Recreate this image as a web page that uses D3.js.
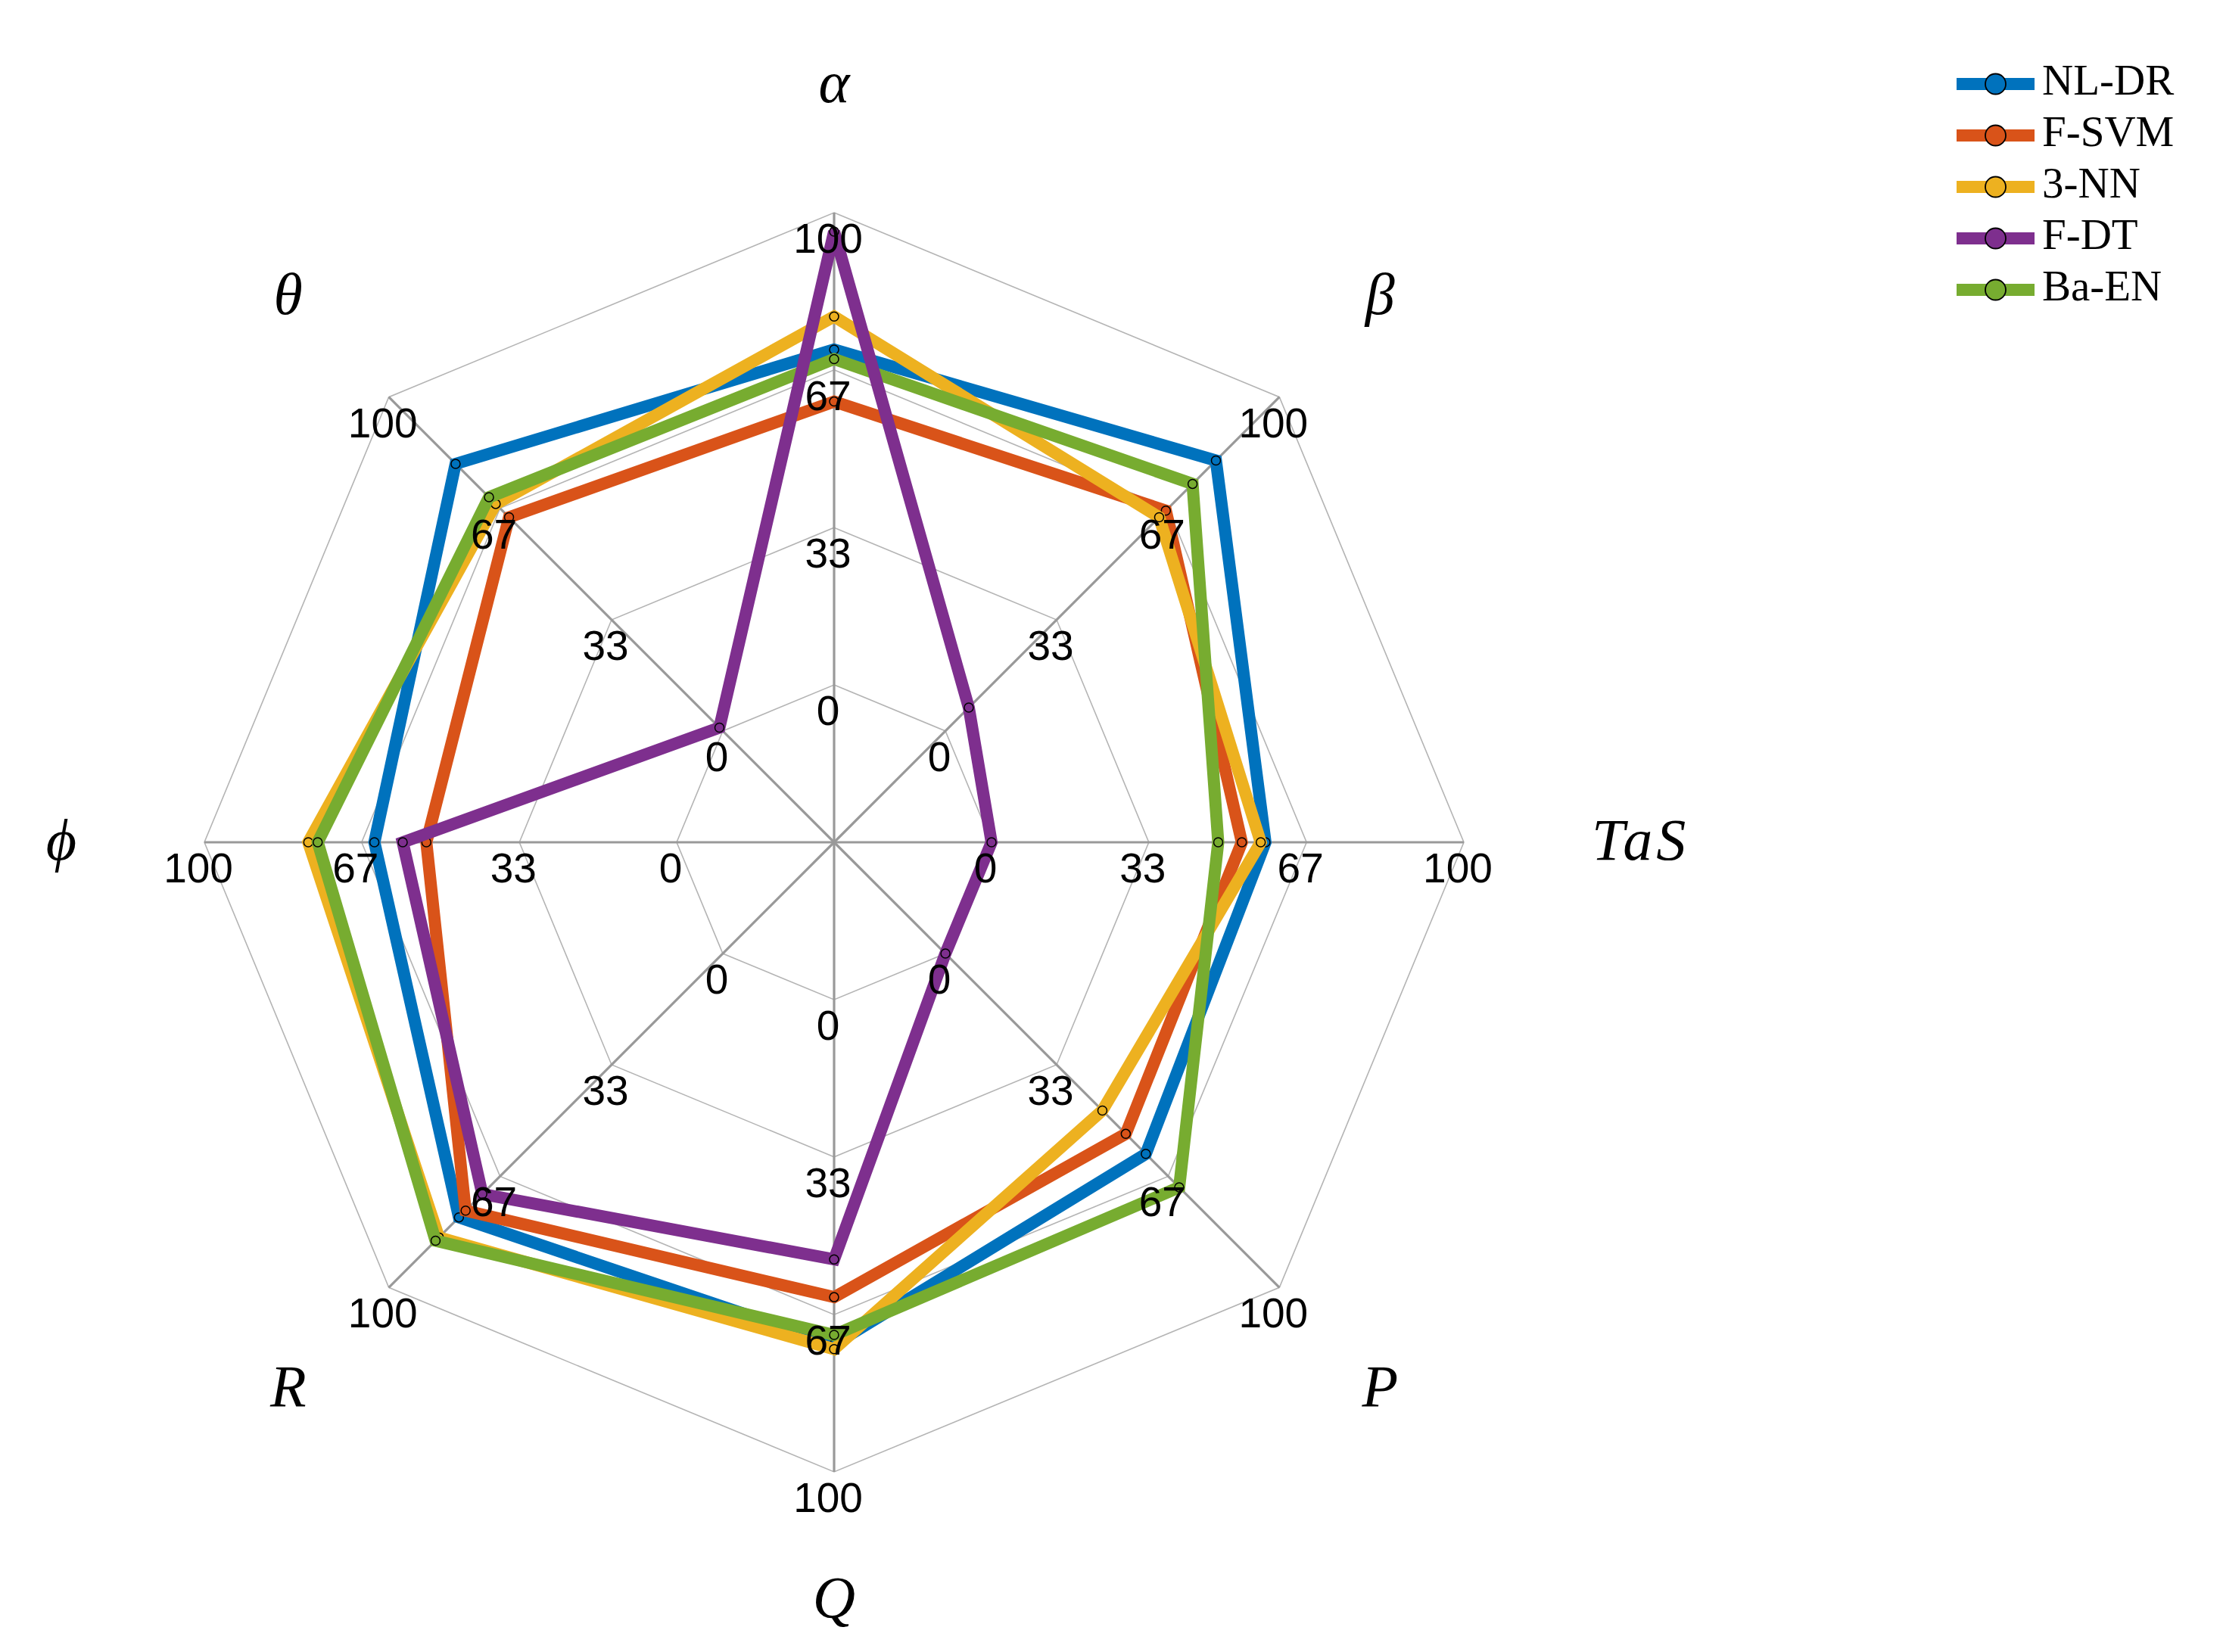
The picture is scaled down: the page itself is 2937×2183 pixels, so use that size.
<!DOCTYPE html>
<html>
<head>
<meta charset="utf-8">
<script src="https://cdn.jsdelivr.net/npm/d3@7"></script>
<style>
  body { margin: 0; background: #fff; }
</style>
</head>
<body>
<div id="chart"></div>
<script>
// axes, clockwise from the top
let axisNames = ['α', 'β', 'TaS', 'P', 'Q', 'R', 'ϕ', 'θ'];
let tickLabels = ['0', '33', '67', '100'];
let tickValues = [0, 33.3, 66.7, 100];

let seriesNames = ['NL-DR', 'F-SVM', '3-NN', 'F-DT', 'Ba-EN'];
let nlDr    = [71, 81, 58, 60, 73, 79, 64, 80];
let fSvm    = [60, 66, 53, 54, 63, 77, 53, 64];
let threeNn = [78, 64, 57, 47, 74, 85, 78, 68];
let fDt     = [96,  7,  0,  0, 55, 72, 58,  1];
let baEn    = [69, 74, 48, 70, 71, 86, 76, 70];
let seriesColors = ['#0072BD', '#D95319', '#EDB120', '#7E2F8E', '#77AC30'];

let series = [nlDr, fSvm, threeNn, fDt, baEn].map(function(v, i) {
    return {name: seriesNames[i], values: v, color: seriesColors[i]};
});

//----------------------------------------
// SVG setup
let width = 2937,
    height = 2183;
let cx = 1102,
    cy = 1113;

let svg = d3.select('#chart').append('svg')
    .attr('width', width)
    .attr('height', height)
    .style('background', '#fff');

let g = svg.append('g').attr('transform', 'translate(' + cx + ',' + cy + ')');

// radial scale, the value 0 sits on the first ring, not the centre
let r = d3.scaleLinear().domain([0, 100]).range([208, 832]);

let angle = function(i) { return (-90 + 45 * i) * Math.PI / 180; };
let pt = function(i, rad) { return [rad * Math.cos(angle(i)), rad * Math.sin(angle(i))]; };

let lineGen = d3.line().curve(d3.curveLinearClosed);

//----------------------------------------
// grid rings
g.selectAll('.ring')
    .data(tickValues)
    .enter()
    .append('path')
    .attr('class', 'ring')
    .attr('d', function(t) {
        return lineGen(axisNames.map(function(a, i) { return pt(i, r(t)); }));
    })
    .style('fill', 'none')
    .style('stroke', '#b4b4b4')
    .style('stroke-width', 1.6);

// spokes
g.selectAll('.spoke')
    .data(axisNames)
    .enter()
    .append('line')
    .attr('x1', 0).attr('y1', 0)
    .attr('x2', function(a, i) { return pt(i, r(100))[0]; })
    .attr('y2', function(a, i) { return pt(i, r(100))[1]; })
    .style('stroke', '#999')
    .style('stroke-width', 3.2);

//----------------------------------------
// series, F-DT ends up on top in the picture
let drawOrder = [0, 1, 2, 4, 3];
drawOrder.forEach(function(k) {
    let s = series[k];
    let pts = s.values.map(function(v, i) { return pt(i, r(v)); });
    let sg = g.append('g');
    sg.append('path')
        .attr('d', lineGen(pts))
        .style('fill', 'none')
        .style('stroke', s.color)
        .style('stroke-width', 16)
        .style('stroke-linejoin', 'miter');
    sg.selectAll('circle')
        .data(pts)
        .enter()
        .append('circle')
        .attr('cx', function(d) { return d[0]; })
        .attr('cy', function(d) { return d[1]; })
        .attr('r', 6)
        .style('fill', s.color)
        .style('stroke', '#000')
        .style('stroke-width', 1.5);
});

//----------------------------------------
// tick labels on every axis
axisNames.forEach(function(a, i) {
    g.selectAll('.tick' + i)
        .data(tickValues)
        .enter()
        .append('text')
        .attr('x', function(t) { return pt(i, r(t))[0] - 8; })
        .attr('y', function(t) { return pt(i, r(t))[1] + 34; })
        .attr('text-anchor', 'middle')
        .attr('dominant-baseline', 'central')
        .style('font-family', '"Liberation Sans", Arial, sans-serif')
        .style('font-size', '55px')
        .style('fill', '#000')
        .text(function(t, j) { return tickLabels[j]; });
});

// axis names
g.selectAll('.axis-name')
    .data(axisNames)
    .enter()
    .append('text')
    .attr('x', function(a, i) { return pt(i, i % 2 ? 1020 : 1001)[0]; })
    .attr('y', function(a, i) { return pt(i, i % 2 ? 1020 : 1001)[1]; })
    .attr('dy', '0.3em')
    .attr('text-anchor', function(a, i) {
        let c = Math.cos(angle(i));
        return c > 0.9 ? 'start' : (c < -0.9 ? 'end' : 'middle');
    })
    .style('font-family', '"Liberation Serif", "Times New Roman", serif')
    .style('font-style', 'italic')
    .style('font-size', '78px')
    .style('letter-spacing', function(a) { return a.length > 1 ? '5px' : '0px'; })
    .style('fill', '#000')
    .text(function(a) { return a; });

//----------------------------------------
// legend
let legend = svg.append('g').attr('transform', 'translate(2585,111)');
let rows = legend.selectAll('.row')
    .data(series)
    .enter()
    .append('g')
    .attr('transform', function(d, i) { return 'translate(0,' + (i * 68) + ')'; });
rows.append('line')
    .attr('x1', 0).attr('x2', 103)
    .attr('y1', 0).attr('y2', 0)
    .style('stroke', function(d) { return d.color; })
    .style('stroke-width', 16);
rows.append('circle')
    .attr('cx', 51.5).attr('cy', 0)
    .attr('r', 13.5)
    .style('fill', function(d) { return d.color; })
    .style('stroke', '#000')
    .style('stroke-width', 1.8);
rows.append('text')
    .attr('x', 113)
    .attr('y', 14)
    .style('font-family', '"Liberation Serif", "Times New Roman", serif')
    .style('font-size', '57px')
    .style('fill', '#000')
    .text(function(d) { return d.name; });
</script>
</body>
</html>
